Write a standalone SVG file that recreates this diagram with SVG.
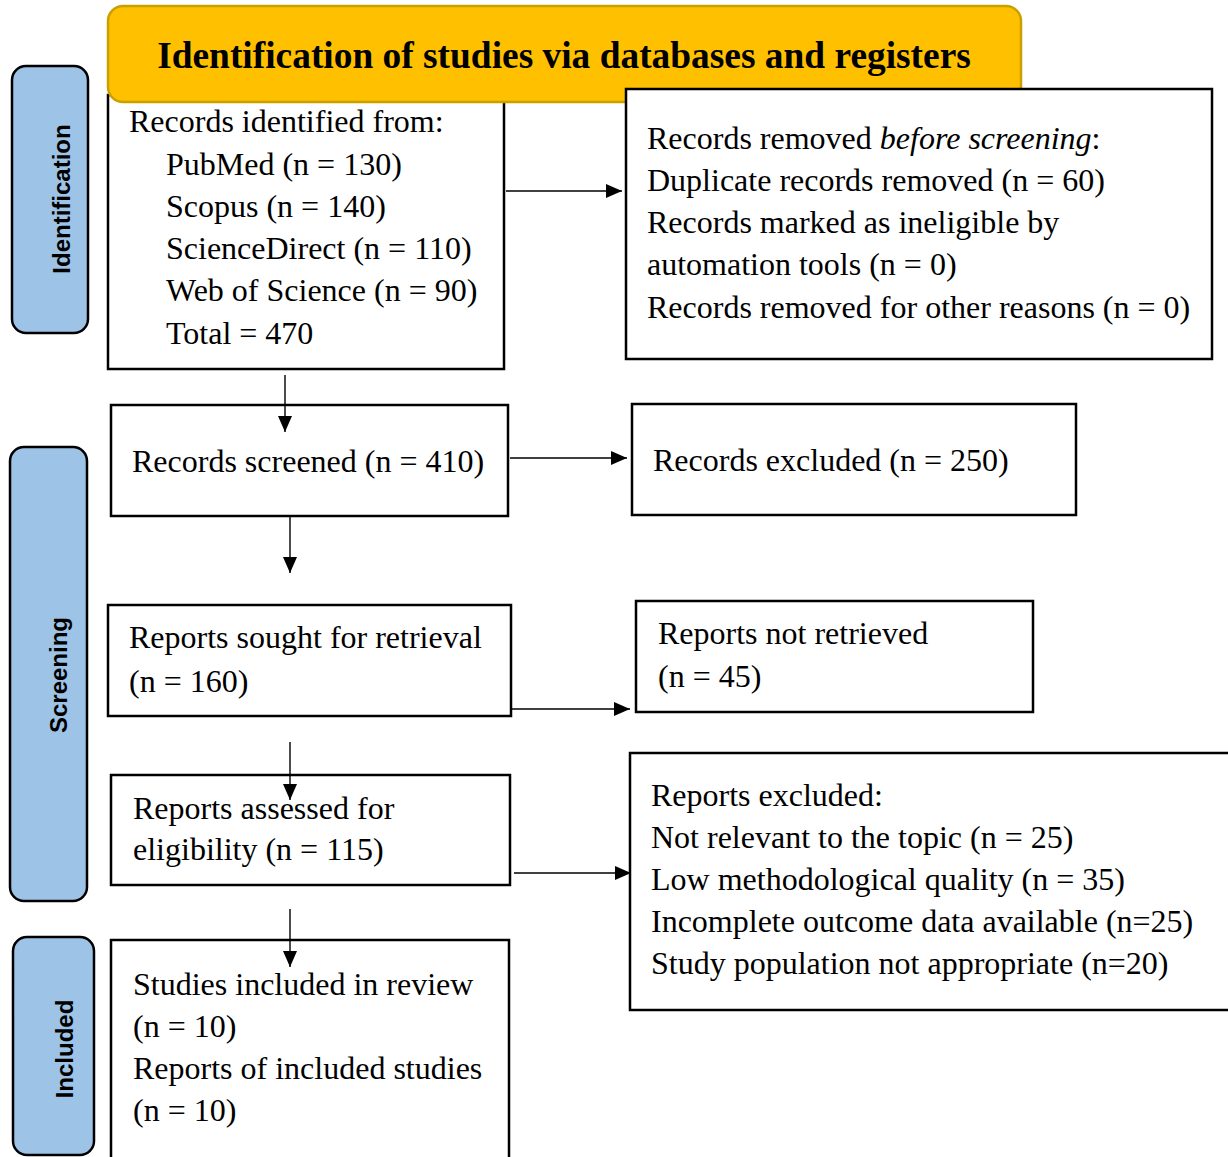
<svg xmlns="http://www.w3.org/2000/svg" width="1228" height="1157" viewBox="0 0 1228 1157">
<defs>
<style>
.box{fill:#fff;stroke:#000;stroke-width:2.5}
.side{fill:#9DC3E6;stroke:#000;stroke-width:2.5}
.t{font-family:"Liberation Serif","Times New Roman",serif;font-size:32px;fill:#000}
.s{font-family:"Liberation Sans",Arial,sans-serif;font-size:24px;font-weight:bold;fill:#000}
.c{fill:none;stroke:#000;stroke-width:1.4}
</style>
<marker id="ah" markerUnits="userSpaceOnUse" markerWidth="16" markerHeight="14" refX="16" refY="7" orient="auto">
<path d="M0,0 L16,7 L0,14 Z" fill="#000"/>
</marker>
</defs>
<rect width="1228" height="1157" fill="#fff"/>

<g id="side-identification">
<rect class="side" x="12" y="66" width="76" height="267" rx="14"/>
<text class="s" transform="translate(70,199) rotate(-90)" text-anchor="middle">Identification</text>
</g>
<g id="side-screening">
<rect class="side" x="10" y="447" width="77" height="454" rx="14"/>
<text class="s" transform="translate(67,675) rotate(-90)" text-anchor="middle">Screening</text>
</g>
<g id="side-included">
<rect class="side" x="13" y="937" width="81" height="218" rx="14"/>
<text class="s" transform="translate(73,1049) rotate(-90)" text-anchor="middle">Included</text>
</g>

<g id="identified">
<rect class="box" x="108" y="95" width="396" height="274"/>
<text class="t" x="129" y="132">Records identified from:</text>
<text class="t" x="166" y="175">PubMed (n = 130)</text>
<text class="t" x="166" y="217">Scopus (n = 140)</text>
<text class="t" x="166" y="259">ScienceDirect (n = 110)</text>
<text class="t" x="166" y="301">Web of Science (n = 90)</text>
<text class="t" x="166" y="344">Total = 470</text>
</g>

<g id="header">
<rect x="108" y="6" width="913" height="96" rx="15" fill="#FFC000" stroke="#C9A000" stroke-width="2.5"/>
<text x="564" y="68" text-anchor="middle" font-family="'Liberation Serif','Times New Roman',serif" font-size="37.4" font-weight="bold" fill="#000">Identification of studies via databases and registers</text>
</g>

<g id="removed">
<rect class="box" x="626" y="89" width="586" height="270"/>
<text class="t" x="647" y="149">Records removed <tspan font-style="italic">before screening</tspan>:</text>
<text class="t" x="647" y="191">Duplicate records removed (n = 60)</text>
<text class="t" x="647" y="233">Records marked as ineligible by</text>
<text class="t" x="647" y="275">automation tools (n = 0)</text>
<text class="t" x="647" y="318">Records removed for other reasons (n = 0)</text>
</g>

<g id="screened">
<rect class="box" x="111" y="405" width="397" height="111"/>
<text class="t" x="132" y="472">Records screened (n = 410)</text>
</g>

<g id="excluded">
<rect class="box" x="632" y="404" width="444" height="111"/>
<text class="t" x="653" y="471">Records excluded (n = 250)</text>
</g>

<g id="sought">
<rect class="box" x="108" y="605" width="403" height="111"/>
<text class="t" x="129" y="648">Reports sought for retrieval</text>
<text class="t" x="129" y="692">(n = 160)</text>
</g>

<g id="not-retrieved">
<rect class="box" x="636" y="601" width="397" height="111"/>
<text class="t" x="658" y="644">Reports not retrieved</text>
<text class="t" x="658" y="687">(n = 45)</text>
</g>

<g id="assessed">
<rect class="box" x="111" y="775" width="399" height="110"/>
<text class="t" x="133" y="819">Reports assessed for</text>
<text class="t" x="133" y="860">eligibility (n = 115)</text>
</g>

<g id="reports-excluded">
<rect class="box" x="630" y="753" width="610" height="257"/>
<text class="t" x="651" y="806">Reports excluded:</text>
<text class="t" x="651" y="848">Not relevant to the topic (n = 25)</text>
<text class="t" x="651" y="890">Low methodological quality (n = 35)</text>
<text class="t" x="651" y="932">Incomplete outcome data available (n=25)</text>
<text class="t" x="651" y="974">Study population not appropriate (n=20)</text>
</g>

<g id="included">
<rect class="box" x="111" y="940" width="398" height="240"/>
<text class="t" x="133" y="995">Studies included in review</text>
<text class="t" x="133" y="1037">(n = 10)</text>
<text class="t" x="133" y="1079">Reports of included studies</text>
<text class="t" x="133" y="1121">(n = 10)</text>
</g>

<g id="connectors">
<line class="c" x1="506" y1="191" x2="622" y2="191" marker-end="url(#ah)"/>
<line class="c" x1="285" y1="375" x2="285" y2="432" marker-end="url(#ah)"/>
<line class="c" x1="510" y1="458" x2="627" y2="458" marker-end="url(#ah)"/>
<line class="c" x1="290" y1="517" x2="290" y2="573" marker-end="url(#ah)"/>
<line class="c" x1="512" y1="709" x2="630" y2="709" marker-end="url(#ah)"/>
<line class="c" x1="290" y1="742" x2="290" y2="800" marker-end="url(#ah)"/>
<line class="c" x1="514" y1="873" x2="631" y2="873" marker-end="url(#ah)"/>
<line class="c" x1="290" y1="909" x2="290" y2="967" marker-end="url(#ah)"/>
</g>
</svg>
